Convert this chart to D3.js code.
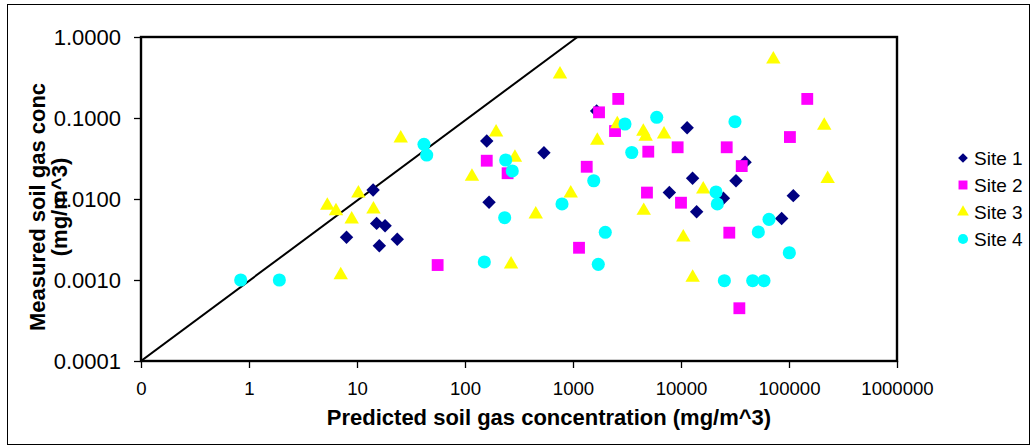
<!DOCTYPE html>
<html>
<head>
<meta charset="utf-8">
<script src="https://d3js.org/d3.v7.min.js"></script>
<style>
  body { margin: 0; background: #fff; }
  text { font-family: "Liberation Sans", Arial, sans-serif; }
</style>
</head>
<body>
<div id="chart"></div>
<script>
var width = 1036,
    height = 447;

// site data: predicted (x) vs measured (y), mg/m^3
var site1X = [14.1, 15.2, 18.2, 8.0, 16.1, 23.6, 159, 167, 538, 1655, 11400, 39200, 12800, 32300, 7800, 24700, 13960, 109600, 85500];
var site1Y = [0.0129, 0.0050, 0.00468, 0.00337, 0.00265, 0.00318, 0.052, 0.0091, 0.0373, 0.122, 0.0759, 0.0284, 0.0180, 0.0168, 0.0120, 0.0102, 0.00697, 0.0110, 0.00574];

var site2X = [55.8, 159, 248, 1340, 1742, 2624, 2450, 1137, 4977, 4840, 9310, 10000, 26500, 36500, 28000, 34700, 102000, 147600];
var site2Y = [0.00153, 0.0297, 0.0208, 0.0250, 0.1175, 0.172, 0.069, 0.00250, 0.0384, 0.0120, 0.0435, 0.0090, 0.0435, 0.0255, 0.00384, 0.000448, 0.0582, 0.172];

var site3X = [5.31, 6.39, 10.3, 14.2, 8.93, 7.07, 25.4, 116, 194, 290, 452, 267, 953, 758, 1679, 2572, 4478, 4710, 6966, 4518, 16070, 10500, 12820, 71600, 212000, 228000];
var site3Y = [0.00827, 0.00711, 0.01175, 0.00746, 0.00561, 0.00115, 0.0561, 0.0189, 0.0666, 0.0324, 0.00648, 0.00156, 0.01175, 0.346, 0.0525, 0.0843, 0.0678, 0.0588, 0.0629, 0.00717, 0.0132, 0.00337, 0.00107, 0.531, 0.0804, 0.0178];

var site4X = [0.838, 1.91, 41.7, 44.2, 238, 274, 233, 151, 791, 1556, 3029, 3500, 1990, 1714, 5960, 31600, 21100, 21700, 65300, 52000, 100700, 25200, 46100, 58700];
var site4Y = [0.001, 0.001, 0.0473, 0.0349, 0.0303, 0.0222, 0.00588, 0.00167, 0.00868, 0.0168, 0.0843, 0.0375, 0.00388, 0.00156, 0.102, 0.090, 0.0122, 0.00868, 0.00561, 0.00392, 0.00217, 0.00098, 0.00098, 0.00098];

// 1:1 reference line
var lineX = [0.1, 1100];
var lineY = [0.0001, 1];

var xTicks = [0.1, 1, 10, 100, 1000, 10000, 100000, 1000000];
var xTickLabels = ["0", "1", "10", "100", "1000", "10000", "100000", "1000000"];
var yTicks = [0.0001, 0.001, 0.01, 0.1, 1];
var yTickLabels = ["0.0001", "0.0010", "0.0100", "0.1000", "1.0000"];

var siteNames = ["Site 1", "Site 2", "Site 3", "Site 4"];
var siteColors = ["#000080", "#ff00ff", "#ffff00", "#00ffff"];

var plotL = 141, plotR = 897, plotT = 37, plotB = 361;

var svg = d3.select("#chart").append("svg")
    .attr("width", width)
    .attr("height", height);

// outer chart border
svg.append("rect")
    .attr("x", 7.5).attr("y", 4.5)
    .attr("width", 1022).attr("height", 440)
    .attr("fill", "none").attr("stroke", "#000").attr("stroke-width", 1);

var x = d3.scaleLog().domain([0.1, 1000000]).range([plotL, plotR]);
var y = d3.scaleLog().domain([0.0001, 1]).range([plotB, plotT]);

var xAxis = d3.axisBottom(x)
    .tickValues(xTicks)
    .tickFormat(function(d, i) { return xTickLabels[i]; })
    .tickSize(7).tickSizeOuter(0);

var yAxis = d3.axisLeft(y)
    .tickValues(yTicks)
    .tickFormat(function(d, i) { return yTickLabels[i]; })
    .tickSize(7).tickSizeOuter(0);

var gx = svg.append("g")
    .attr("transform", "translate(0," + plotB + ")")
    .call(xAxis);
gx.attr("font-size", null).attr("font-family", null);
gx.selectAll("text")
    .attr("y", 21)
    .attr("dy", "0.71em")
    .style("font-size", "18.6px")
    .attr("fill", "#000");

var gy = svg.append("g")
    .attr("transform", "translate(" + plotL + ",0)")
    .call(yAxis);
gy.attr("font-size", null).attr("font-family", null);
gy.selectAll("text")
    .attr("x", -20)
    .style("font-size", "22px")
    .attr("fill", "#000");

[gx, gy].forEach(function(g) {
  g.select(".domain").remove();
  g.selectAll("line").attr("stroke", "#000").attr("stroke-width", 1.3);
});

// plot area frame
svg.append("rect")
    .attr("x", plotL).attr("y", plotT)
    .attr("width", plotR - plotL).attr("height", plotB - plotT)
    .attr("fill", "none").attr("stroke", "#000").attr("stroke-width", 2.4);

svg.append("clipPath").attr("id", "plotclip")
  .append("rect")
    .attr("x", plotL).attr("y", plotT)
    .attr("width", plotR - plotL).attr("height", plotB - plotT);

var line = d3.line()
    .x(function(d) { return x(d[0]); })
    .y(function(d) { return y(d[1]); });

svg.append("path")
    .datum(d3.zip(lineX, lineY))
    .attr("clip-path", "url(#plotclip)")
    .attr("d", line)
    .attr("fill", "none")
    .attr("stroke", "#000")
    .attr("stroke-width", 2);

var symbols = [
  d3.symbol().type(d3.symbolDiamond2).size(115),
  d3.symbol().type(d3.symbolSquare).size(140),
  d3.symbol().type(d3.symbolTriangle).size(90),
  d3.symbol().type(d3.symbolCircle).size(135)
];

var sites = [
  d3.zip(site1X, site1Y),
  d3.zip(site2X, site2Y),
  d3.zip(site3X, site3Y),
  d3.zip(site4X, site4Y)
];

sites.forEach(function(pts, i) {
  svg.append("g").selectAll("path")
      .data(pts)
    .enter().append("path")
      .attr("d", symbols[i])
      .attr("fill", siteColors[i])
      .attr("transform", function(d) {
        return "translate(" + x(d[0]) + "," + y(d[1]) + ")";
      });
});

// axis titles
svg.append("text")
    .attr("x", (326 + 772) / 2)
    .attr("y", 425)
    .attr("text-anchor", "middle")
    .style("font-size", "22px")
    .style("font-weight", "bold")
    .text("Predicted soil gas concentration (mg/m^3)");

var yTitle = svg.append("text")
    .attr("transform", "translate(45,207) rotate(-90)")
    .attr("text-anchor", "middle")
    .style("font-size", "22px")
    .style("font-weight", "bold");
yTitle.append("tspan").attr("x", 0).attr("y", 0).text("Measured soil gas conc");
yTitle.append("tspan").attr("x", 0).attr("y", 22).text("(mg/m^3)");

// legend
var legendSyms = [
  d3.symbol().type(d3.symbolDiamond2).size(60),
  d3.symbol().type(d3.symbolSquare).size(80),
  d3.symbol().type(d3.symbolTriangle).size(60),
  d3.symbol().type(d3.symbolCircle).size(80)
];
var legend = svg.append("g").attr("transform", "translate(963,158)");
siteNames.forEach(function(name, i) {
  var row = legend.append("g").attr("transform", "translate(0," + (i * 27) + ")");
  row.append("path").attr("d", legendSyms[i]).attr("fill", siteColors[i]);
  row.append("text")
      .attr("x", 11)
      .attr("y", 7)
      .style("font-size", "19px")
      .text(name);
});
</script>
</body>
</html>
